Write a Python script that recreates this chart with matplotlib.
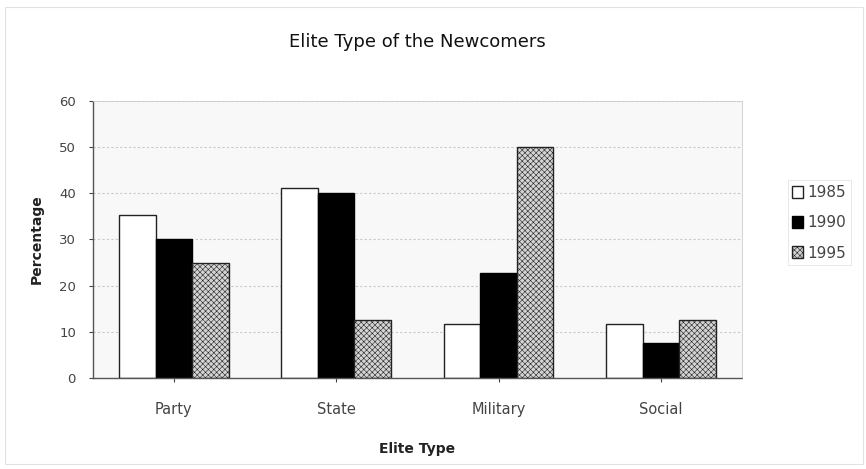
import numpy as np
import matplotlib
matplotlib.use("Agg")
import matplotlib.pyplot as plt
from matplotlib.patches import Rectangle

plt.rcParams['font.family'] = ['DejaVu Sans']
plt.rcParams['hatch.color'] = '#c2c2c2'
plt.rcParams['hatch.linewidth'] = 0.4

categories = ['Party', 'State', 'Military', 'Social']
years = ['1985', '1990', '1995']
vals_1985 = [35.3, 41.2, 11.8, 11.8]
vals_1990 = [30.0, 40.0, 22.7, 7.6]
vals_1995 = [25.0, 12.5, 50.0, 12.5]

fig = plt.figure(figsize=(8.66, 4.69), dpi=100)
fig.patches.append(Rectangle((0.006, 0.01), 0.99, 0.975, transform=fig.transFigure,
                             fill=False, edgecolor='#e2e2e2', linewidth=0.8))
ax = fig.add_axes([0.107, 0.194, 0.750, 0.591])
ax.set_facecolor('#f8f8f8')

x = np.arange(len(categories))
w = 0.225
ax.bar(x - w, vals_1985, w, color='white', edgecolor='#222222', linewidth=1, label=years[0])
ax.bar(x, vals_1990, w, color='black', edgecolor='black', linewidth=1, label=years[1])
ax.bar(x + w, vals_1995, w, color='#d4d4d4', edgecolor='#222222', linewidth=1,
       hatch='xxxxxx', label=years[2])

ax.set_xlim(-0.5, 3.5)
ax.set_ylim(0, 60)
ax.set_yticks(range(0, 61, 10))
ax.set_xticks(x)
ax.set_xticklabels(categories)
ax.yaxis.grid(True, linestyle=(0, (2, 2)), color='#c8c8c8', linewidth=0.8)
ax.set_axisbelow(True)
for side in ['top', 'right']:
    ax.spines[side].set_color('#cccccc')
    ax.spines[side].set_linewidth(0.6)
for side in ['left', 'bottom']:
    ax.spines[side].set_color('#555555')
    ax.spines[side].set_linestyle((0, (1, 1)))
    ax.spines[side].set_linewidth(1)
ax.tick_params(axis='y', labelsize=9.5, colors='#444444', length=3, pad=9)
ax.tick_params(axis='x', labelsize=10.5, colors='#444444', length=3, pad=14)

ax.set_title('Elite Type of the Newcomers', fontsize=13, pad=39, color='#111111')
ax.set_xlabel('Elite Type', fontsize=10, fontweight='bold', labelpad=18, color='#222222')
ax.set_ylabel('Percentage', fontsize=10, fontweight='bold', labelpad=11, color='#222222')

leg = ax.legend(loc='center left', bbox_to_anchor=(1.07, 0.56), frameon=True, fontsize=11,
                handlelength=0.7, handleheight=0.8, handletextpad=0.3, fancybox=False,
                borderpad=0.3, borderaxespad=0, labelspacing=1.0)
leg.get_frame().set_edgecolor('#dddddd')
leg.get_frame().set_linewidth(0.6)
for t in leg.get_texts():
    t.set_color('#444444')

fig.savefig('out.png', dpi=100)
